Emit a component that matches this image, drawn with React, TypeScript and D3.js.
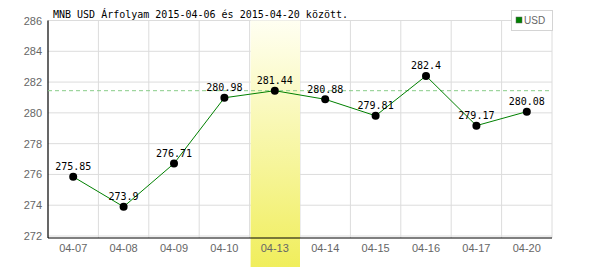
import React from "react";
import * as d3 from "d3";

const categories = ["04-07", "04-08", "04-09", "04-10", "04-13", "04-14", "04-15", "04-16", "04-17", "04-20"];
const values = [275.85, 273.9, 276.71, 280.98, 281.44, 280.88, 279.81, 282.4, 279.17, 280.08];
const valueLabels = ["275.85", "273.9", "276.71", "280.98", "281.44", "280.88", "279.81", "282.4", "279.17", "280.08"];
const yTicks = [272, 274, 276, 278, 280, 282, 284, 286];
const highlightIndex = 4;
const title = "MNB USD Árfolyam 2015-04-06 és 2015-04-20 között.";
const seriesName = "USD";

export default function App() {
  const W = 600, H = 270;
  const left = 48, right = 552, top = 20.5, bottomGrid = 236, axisY = 238;
  const x = d3.scaleBand<string>().domain(categories).range([left, right]).padding(0);
  const y = d3.scaleLinear().domain([272, 286]).range([bottomGrid, top]);
  const line = d3.line<number>()
    .x((_, i) => (x(categories[i]) as number) + x.bandwidth() / 2)
    .y((d) => y(d));
  const hx = x(categories[highlightIndex]) as number;
  const mono = "'DejaVu Sans Mono', monospace";
  const sans = "'Liberation Sans', Arial, sans-serif";
  return (
    <svg width={W} height={H} style={{ position: "absolute", left: 0, top: 0, background: "#fff" }}>
      <defs>
        <linearGradient id="hl" x1="0" y1="0" x2="0" y2="1">
          <stop offset="0" stopColor="#fffff2" />
          <stop offset="1" stopColor="#f0ee5c" />
        </linearGradient>
      </defs>
      {/* grid */}
      {yTicks.map((t) => (
        <line key={"h" + t} x1={left} x2={right} y1={y(t)} y2={y(t)} stroke="#dcdcdc" strokeWidth={1} />
      ))}
      {categories.map((c, i) => {
        const xx = (x(c) as number) + x.bandwidth();
        return <line key={"v" + c} x1={xx} x2={xx} y1={top} y2={axisY} stroke="#dcdcdc" strokeWidth={1} />;
      })}
      {/* highlight band */}
      <rect x={hx + 1} y={top} width={x.bandwidth() - 1} height={267 - top} fill="url(#hl)" />
      {/* axes */}
      <line x1={left} x2={left} y1={top} y2={axisY} stroke="#000" strokeWidth={1.2} />
      <line x1={left} x2={right} y1={axisY} y2={axisY} stroke="#000" strokeWidth={1.2} />
      {/* y tick labels */}
      {yTicks.map((t) => (
        <text key={"yt" + t} x={42} y={y(t) + 4} textAnchor="end" fontFamily={sans} fontSize={11} fill="#666">{t}</text>
      ))}
      {/* x tick labels */}
      {categories.map((c) => (
        <text key={"xt" + c} x={(x(c) as number) + x.bandwidth() / 2} y={252} textAnchor="middle" fontFamily={sans} fontSize={11} fill="#666">{c}</text>
      ))}
      {/* dashed reference line */}
      <line x1={left} x2={right} y1={y(values[highlightIndex])} y2={y(values[highlightIndex])} stroke="#88cc88" strokeWidth={1} strokeDasharray="4,3" />
      {/* series */}
      <path d={line(values) || ""} fill="none" stroke="#008000" strokeWidth={1} />
      {values.map((v, i) => {
        const cx = (x(categories[i]) as number) + x.bandwidth() / 2;
        return (
          <g key={"p" + i}>
            <circle cx={cx} cy={y(v)} r={4} fill="#000" />
            <text x={cx} y={y(v) - 6.5} textAnchor="middle" fontFamily={mono} fontSize={10} fill="#000">{valueLabels[i]}</text>
          </g>
        );
      })}
      {/* title */}
      <text x={53} y={17.5} fontFamily={mono} fontSize={10} fill="#000">{title}</text>
      {/* legend */}
      <rect x={511.5} y={10.5} width={41} height={20} fill="#fff" stroke="#d4d4d4" strokeWidth={1} />
      <rect x={516} y={17} width={6} height={6} fill="#008000" stroke="#666" strokeWidth={0.5} />
      <text x={524} y={24} fontFamily={sans} fontSize={10} fill="#666">{seriesName}</text>
    </svg>
  );
}
